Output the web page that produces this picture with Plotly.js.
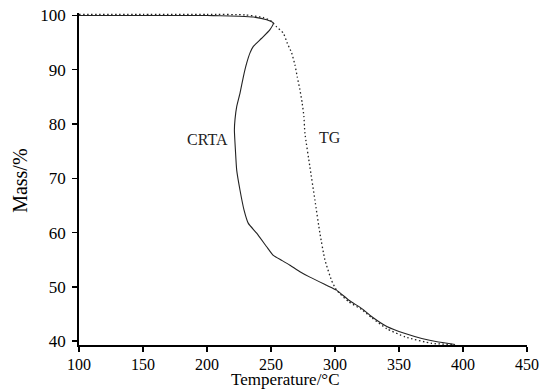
<!DOCTYPE html>
<html><head><meta charset="utf-8">
<script src="https://cdn.plot.ly/plotly-3.0.1.min.js"></script>
<style>html,body{margin:0;padding:0;background:#fff}#chart{width:544px;height:391px}</style>
</head><body><div id="chart"></div>
<script>
const crtaT = [100,150,200,210.2,225,236.2,246.6,251.8,249.2,242.7,236.2,233.6,231.0,228.4,225.8,223.2,221.9,221.4,222.2,223.2,225.8,228.9,232.3,238.8,246.6,251.8,258.3,264.8,272.6,280.4,293.4,301.2,310.6,321,328.8,340.5,354.8,367.8,380.8,393.8];
const crtaM = [100,100,99.98,99.95,99.85,99.7,99.2,98.6,97.4,95.8,94.3,93.1,91.2,88.7,85.7,83.2,80.9,78.9,75.2,71.5,67.8,64.2,61.7,59.9,57.4,55.8,54.9,54.0,52.8,51.8,50.3,49.4,47.6,46.0,44.5,42.7,41.4,40.5,39.85,39.4];
const tgT = [100,150,200,230,244,250,254.4,259.6,262.7,266.1,268.7,270.5,272.6,274.4,275.7,276.5,280.4,284.3,288.2,292.1,297.3,301.2,310.6,321,328.8,340.5,354.8,375.6,392.5];
const tgM = [100.2,100.2,100.2,100.1,99.6,99.0,97.9,96.75,94.9,93.1,90.9,88.7,86.3,83.8,81.4,78.3,72.1,66.0,59.9,55.0,51.2,49.4,47.3,45.8,44.3,42.3,40.8,39.6,39.4];
const xTicks = [100,150,200,250,300,350,400,450];
const yTicks = [40,50,60,70,80,90,100];
const xTitle = 'Temperature/°C';
const yTitle = 'Mass/%';
const labels = [{text:'CRTA', x:200, y:77.1}, {text:'TG', x:296, y:77.6}];

const fam = 'Liberation Serif';
const data = [
  {x:crtaT, y:crtaM, mode:'lines', line:{color:'#222', width:1.1, shape:'spline', smoothing:0.5}, hoverinfo:'none'},
  {x:tgT, y:tgM, mode:'lines', line:{color:'#222', width:1.3, dash:'1.5px,2.5px', shape:'spline', smoothing:0.5}, hoverinfo:'none'}
];
const axisCommon = {showgrid:false, zeroline:false, showline:true, linecolor:'#000', linewidth:1.8,
  ticks:'outside', ticklen:5, tickwidth:1.5, tickcolor:'#000'};
const annos = labels.map(l => ({text:l.text, x:l.x, y:l.y, xref:'x', yref:'y', showarrow:false,
    font:{family:fam, size:16, color:'#222'}}));
annos.push({text:xTitle, xref:'paper', yref:'paper', x:0.46, y:-0.139, xanchor:'center', yanchor:'bottom',
  showarrow:false, font:{family:fam, size:17, color:'#000'}});
annos.push({text:yTitle, xref:'paper', yref:'paper', x:-0.132, y:0.494, xanchor:'center', yanchor:'middle',
  textangle:-90, showarrow:false, font:{family:fam, size:20, color:'#000'}});
const layout = {
  width:544, height:391, showlegend:false,
  paper_bgcolor:'#fff', plot_bgcolor:'#fff',
  margin:{l:79, r:17, t:13, b:46},
  font:{family:fam, size:17, color:'#000'},
  xaxis:Object.assign({range:[100,450], tickvals:xTicks, ticktext:xTicks.map(String),
    tickfont:{family:fam, size:16, color:'#000'}, ticklabelstandoff:-1}, axisCommon),
  yaxis:Object.assign({range:[39.3,100.45], tickvals:yTicks, ticktext:yTicks.map(String),
    tickfont:{family:fam, size:17, color:'#000'}, ticklabelstandoff:3}, axisCommon),
  annotations: annos
};
Plotly.newPlot('chart', data, layout, {displayModeBar:false, staticPlot:true});
</script></body></html>
